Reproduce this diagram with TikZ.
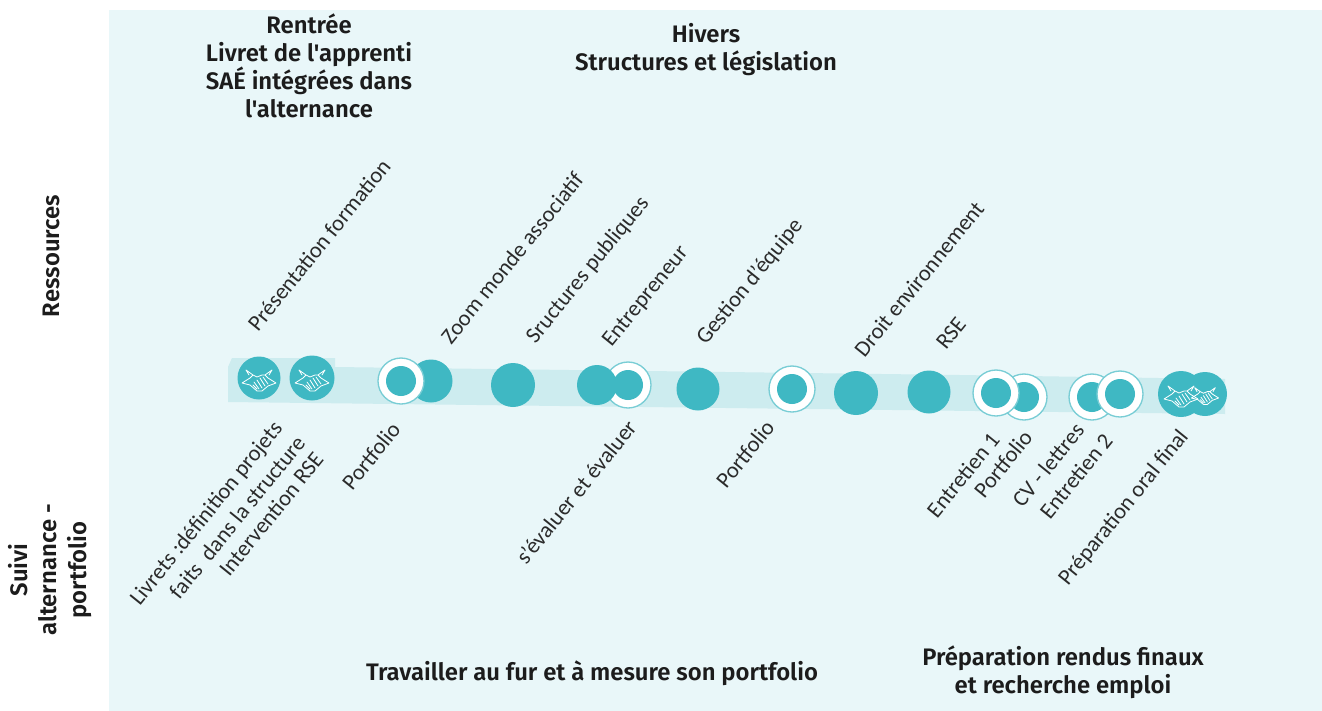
\documentclass[tikz,border=0pt]{standalone}
\usepackage{fontspec}
\setmainfont{Carlito}
\newfontfamily\headfont{Fira Sans SemiBold}
\definecolor{panel}{HTML}{E9F7F9}
\definecolor{band}{HTML}{CDECEF}
\definecolor{teal}{HTML}{3FB8C3}
\definecolor{ink}{HTML}{2B2B2B}
\definecolor{headink}{HTML}{1C1C1C}
\newlength{\pxunit}\setlength{\pxunit}{0.75pt}
\def\pxu{\pxunit}
\tikzset{
  solid dot/.style={circle,fill=teal,inner sep=0pt,minimum size=#1},
  lab/.style={rotate=51,text=ink,font=\fontsize{16.9}{18}\selectfont,inner sep=0pt},
  head/.style={text=headink,font=\headfont\fontsize{17.9}{21}\selectfont,align=center,inner sep=0pt},
  shake/.pic={
    \draw[white,line width=.6pt,line cap=round,line join=round]
      (-13,-8)--(-6,-3) (13,-8)--(6,-3)
      (-6,-3)--(-2,-1)--(3,-3)--(6,-3)
      (-17,5)--(-9,7)--(-2,13)--(3,13)--(9,8)--(17,5)
      (-17,5)--(-9,0)--(-6,-3) (17,5)--(9,0)--(6,-3)
      (-13,-8)--(-10,-3) (13,-8)--(10,-3)
      (-5,4)--(0,11) (-2,2)--(3,10) (1,0)--(6,8) (-6,7)--(-2,11) (4,-1)--(9,6);
  }
}
\newcommand{\ringdot}[3]{%
  \node[circle,draw=teal!70!white,line width=1pt,fill=white,inner sep=0pt,minimum size=46\pxu] (#1o) at (#2,#3) {};
  \node[solid dot=30\pxu] (#1) at (#2,#3) {};
}
\begin{document}
\begin{tikzpicture}[x=0.75pt,y=-0.75pt]
\useasboundingbox (0,0) rectangle (1322,711);
\fill[white] (0,0) rectangle (1322,711);
\fill[panel] (109,10) rectangle (1322,711);
% band
\fill[band] (228,367) -- (232,358) -- (335,358) -- (335,367) -- (960,375) -- (1225,379) -- (1225,414) -- (228,402) -- cycle;
% dots
\node[solid dot=43\pxu] (h1) at (259,378) {};
\node[solid dot=45\pxu] (h2) at (312,378) {};
\node[solid dot=43\pxu] (d1) at (431,381) {};
\ringdot{r1}{401}{381}
\node[solid dot=44\pxu] (d2) at (513,385) {};
\ringdot{r2}{628}{385}
\node[solid dot=40\pxu] (d3) at (597,385) {};
\node[solid dot=43\pxu] (d4) at (698,389) {};
\ringdot{r3}{792}{389}
\node[solid dot=44\pxu] (d5) at (856,393) {};
\node[solid dot=43\pxu] (d6) at (929,392) {};
\ringdot{r4}{1024}{397}
\ringdot{r5}{996}{393}
\ringdot{r6}{1092}{397}
\ringdot{r7}{1120}{394}
\node[solid dot=44\pxu] (h4) at (1205,394) {};
\node[solid dot=46\pxu] (h3) at (1181,394) {};
\pic at (h1) {shake};
\pic at (h2) {shake};
\pic at (h3) {shake};
\pic[scale=.8] at (h4) {shake};
% upper labels
\node[lab] (t1) at (319,245) {Présentation formation};
\node[lab] (t2) at (512,258) {Zoom monde associatif};
\node[lab] (t3) at (588,270) {Sructures publiques};
\node[lab] (t4) at (646,297) {Entrepreneur};
\node[lab] (t5) at (750,282) {Gestion d'équipe};
\node[lab] (t6) at (919,279) {Droit environnement};
\node[lab] (t7) at (951,333) {RSE};
% lower labels
\node[lab] (b1) at (207,514) {Livrets :définition projets};
\node[lab] (b2) at (237,517) {faits\ \ dans la structure};
\node[lab] (b3) at (271,514) {Intervention RSE};
\node[lab] (b4) at (371,456) {Portfolio};
\node[lab] (b5) at (576,492) {s'évaluer et évaluer};
\node[lab] (b6) at (745,454) {Portfolio};
\node[lab] (b7) at (963,475) {Entretien 1};
\node[lab] (b8) at (1003,464) {Portfolio};
\node[lab] (b9) at (1048,465) {CV - lettres};
\node[lab] (b10) at (1076,476) {Entretien 2};
\node[lab] (b11) at (1124,508) {Préparation oral final};
% headings
\node[head] (a1) at (309,66) {Rentrée\\Livret de l'apprenti\\SAÉ intégrées dans\\l'alternance};
\node[head] (a2) at (706,50) {Hivers\\Structures et législation};
\node[head] (a3) at (592,673) {Travailler au fur et à mesure son portfolio};
\node[head] (a4) at (1063,672) {Préparation rendus finaux\\et recherche emploi};
\node[head,rotate=90] (a5) at (51,256) {Ressources};
\node[head,rotate=90,font=\headfont\fontsize{17.9}{22}\selectfont] (a6) at (50,570) {Suivi\\alternance -\\portfolio};
\end{tikzpicture}
\end{document}
